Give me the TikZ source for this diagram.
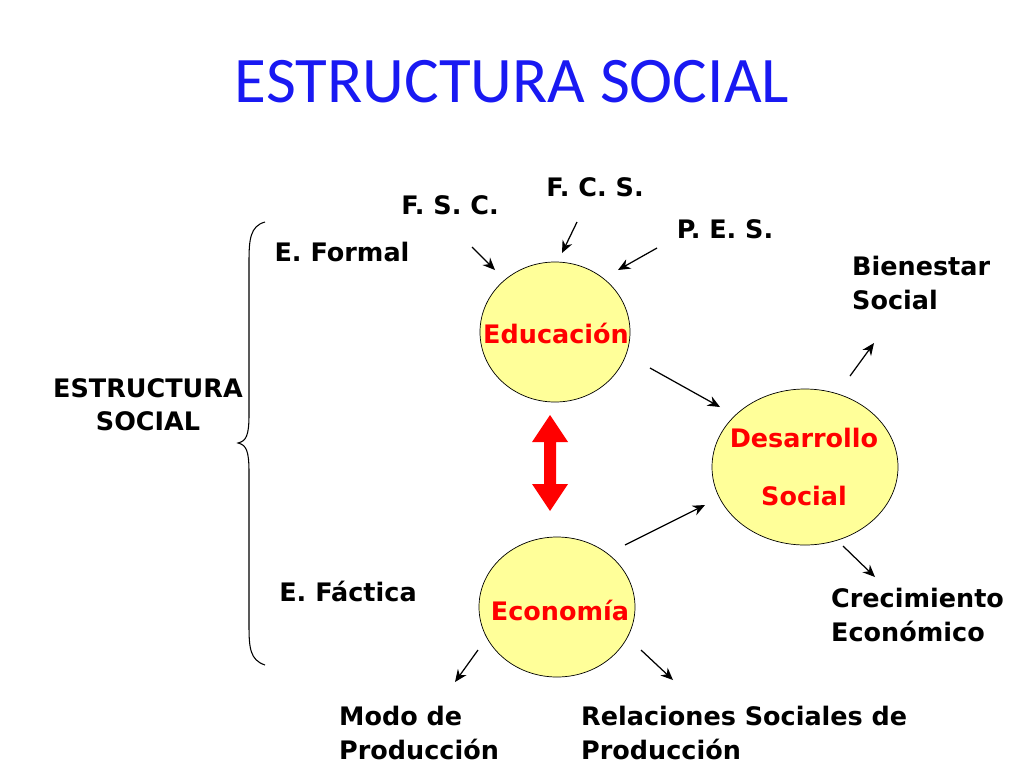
\documentclass[tikz,border=0pt]{standalone}
\usepackage{fontspec}
\setmainfont{Carlito}
\newfontfamily\lblfont{DejaVu Sans}
\usetikzlibrary{arrows.meta}
\definecolor{circfill}{rgb}{1,1,0.6}
\definecolor{titleblue}{rgb}{0.1,0.1,0.95}
\tikzset{lbl/.style={font=\lblfont\bfseries\fontsize{14.5}{19}\selectfont,align=left},
  circ/.style={draw=black,fill=circfill},
  redlbl/.style={font=\lblfont\bfseries\fontsize{14.5}{19}\selectfont,text=red},
  arrow/.style={-{Stealth[length=7pt,width=6pt]},line width=0.7pt}}
\begin{document}
\begin{tikzpicture}[x=0.02cm,y=-0.02cm]
\useasboundingbox (0,0) rectangle (1024,768);
\node (title) at (512,82) {\color{titleblue}\fontsize{37}{44}\selectfont ESTRUCTURA SOCIAL};
% circles
\draw[circ] (555,332) ellipse (75 and 70);
\draw[circ] (557,607) ellipse (78 and 70);
\draw[circ] (805,467) ellipse (93 and 78);
\node[redlbl] (edu) at (556,333) {Educación};
\node[redlbl] (eco) at (560,610) {Economía};
\node[redlbl,align=center] (des) at (804,467) {Desarrollo\\[14pt]Social};
% labels
\node[lbl,align=center] (es) at (148,405) {ESTRUCTURA\\SOCIAL};
\node[lbl] (ef) at (342,252) {E. Formal};
\node[lbl] (efa) at (348,591) {E. Fáctica};
\node[lbl] (fsc) at (450,205) {F. S. C.};
\node[lbl] (fcs) at (595,187) {F. C. S.};
\node[lbl] (pes) at (725,229) {P. E. S.};
\node[lbl,anchor=west] (bs) at (846,283) {Bienestar\\Social};
\node[lbl,anchor=west] (ce) at (825,615) {Crecimiento\\Económico};
\node[lbl,anchor=west] (mp) at (333,733) {Modo de\\Producción};
\node[lbl,anchor=west] (rs) at (575,733) {Relaciones Sociales de\\Producción};
% arrows
\draw[arrow] (472,247) -- (495,270);
\draw[arrow] (577,222) -- (562,253);
\draw[arrow] (657,248) -- (618,270);
\draw[arrow] (650,368) -- (720,407);
\draw[arrow] (625,545) -- (705,505);
\draw[arrow] (850,376) -- (874,343);
\draw[arrow] (843,546) -- (875,577);
\draw[arrow] (478,650) -- (455,682);
\draw[arrow] (641,650) -- (673,680);
% double arrow
\fill[red] (550,415) -- (568,442) -- (556,442) -- (556,484) -- (568,484) -- (550,511)
  -- (532,484) -- (544,484) -- (544,442) -- (532,442) -- cycle;
% brace
\draw[line width=0.6pt] (265,222) .. controls (250,226) and (249,240) .. (249,262) -- (249,415)
  .. controls (249,436) and (246,441) .. (238,443)
  .. controls (246,445) and (249,450) .. (249,472) -- (249,625)
  .. controls (249,648) and (250,660) .. (265,665);
\end{tikzpicture}
\end{document}
